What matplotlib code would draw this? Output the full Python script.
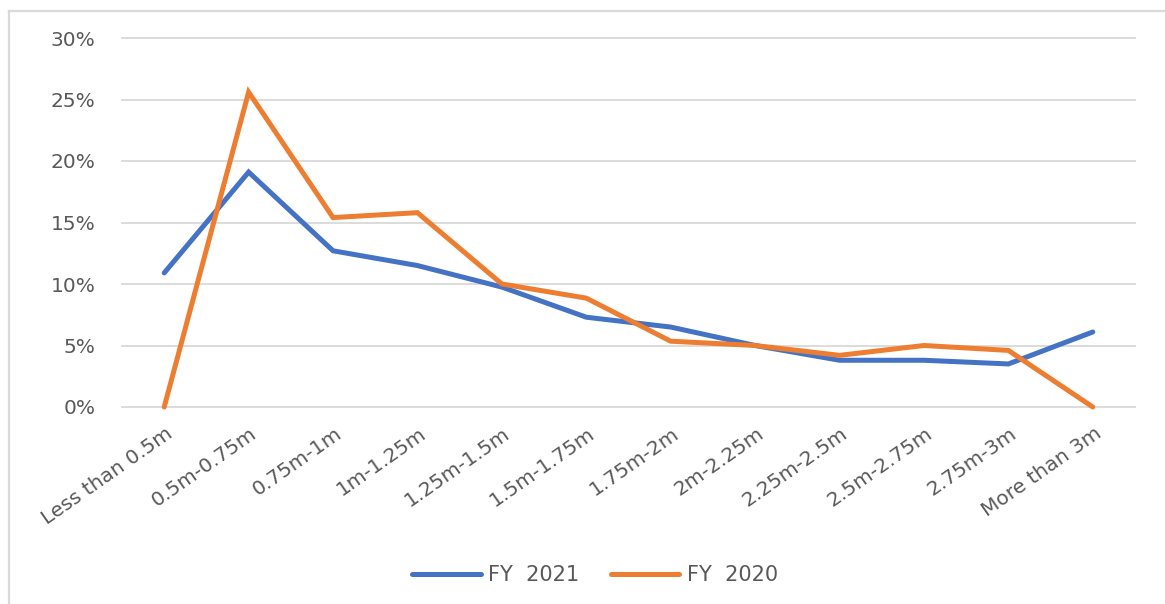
import matplotlib
matplotlib.use("Agg")
import matplotlib.pyplot as plt
from matplotlib.lines import Line2D
from matplotlib.ticker import FuncFormatter
import matplotlib.transforms as mtransforms

categories = ["Less than 0.5m", "0.5m-0.75m", "0.75m-1m", "1m-1.25m", "1.25m-1.5m",
              "1.5m-1.75m", "1.75m-2m", "2m-2.25m", "2.25m-2.5m", "2.5m-2.75m",
              "2.75m-3m", "More than 3m"]
fy2021 = [0.109, 0.191, 0.127, 0.115, 0.0975, 0.073, 0.065, 0.050, 0.038, 0.038, 0.035, 0.061]
fy2020 = [0.000, 0.256, 0.154, 0.158, 0.100, 0.0885, 0.0535, 0.050, 0.042, 0.050, 0.046, 0.000]
yticks = [0, 0.05, 0.10, 0.15, 0.20, 0.25, 0.30]

BLUE = "#4472C4"
ORANGE = "#ED7D31"
GRID = "#D9D9D9"
TXT = "#595959"
FONT = ["DejaVu Sans"]

W, H = 1165, 604
fig = plt.figure(figsize=(W / 100, H / 100), dpi=100)
fig.patch.set_facecolor("white")

# chart-area border (top and left visible)
fig.add_artist(Line2D([8.5 / W, 8.5 / W], [0, 1 - 11 / H], transform=fig.transFigure,
                      color=GRID, lw=1.6))
fig.add_artist(Line2D([8.5 / W, 1], [1 - 11 / H, 1 - 11 / H], transform=fig.transFigure,
                      color=GRID, lw=1.6))

left, right = 122 / W, 1135 / W
bottom, top = 1 - 407 / H, 1 - 38 / H
ax = fig.add_axes([left, bottom, right - left, top - bottom])

x = list(range(len(categories)))
ax.plot(x, fy2021, color=BLUE, lw=3.6, solid_capstyle="round", solid_joinstyle="miter",
        label="FY  2021", zorder=3, clip_on=False)
ax.plot(x, fy2020, color=ORANGE, lw=3.6, solid_capstyle="round", solid_joinstyle="miter",
        label="FY  2020", zorder=3, clip_on=False)

ax.set_xlim(-0.5, len(categories) - 0.5)
ax.set_ylim(0, 0.30)
ax.set_yticks(yticks)
ax.yaxis.set_major_formatter(FuncFormatter(lambda v, p: f"{v * 100:.0f}%"))
ax.grid(axis="y", color=GRID, lw=1.3, zorder=0)
for gl in ax.get_ygridlines():
    gl.set_clip_on(False)
ax.set_axisbelow(True)
for s in ax.spines.values():
    s.set_visible(False)
ax.tick_params(axis="both", length=0, colors=TXT)
ax.tick_params(axis="y", pad=19, labelsize=14.5)
for lab in ax.get_yticklabels():
    lab.set_fontfamily(FONT)

ax.set_xticks(x)
ax.set_xticklabels(categories, rotation=35, rotation_mode="anchor", ha="right", va="top",
                   fontsize=14.5, color=TXT, family=FONT)
ax.tick_params(axis="x", pad=0)
offset = mtransforms.ScaledTranslation(1 / 100, -17 / 100, fig.dpi_scale_trans)
for lab in ax.get_xticklabels():
    lab.set_transform(lab.get_transform() + offset)

leg = fig.legend(loc="center", bbox_to_anchor=(595 / W, 1 - 575 / H), ncol=2, frameon=False,
                 handlelength=3.3, handletextpad=0.35, columnspacing=1.5,
                 prop={"family": FONT, "size": 15})
for t in leg.get_texts():
    t.set_color(TXT)

fig.savefig("out.png", dpi=100, facecolor="white")
